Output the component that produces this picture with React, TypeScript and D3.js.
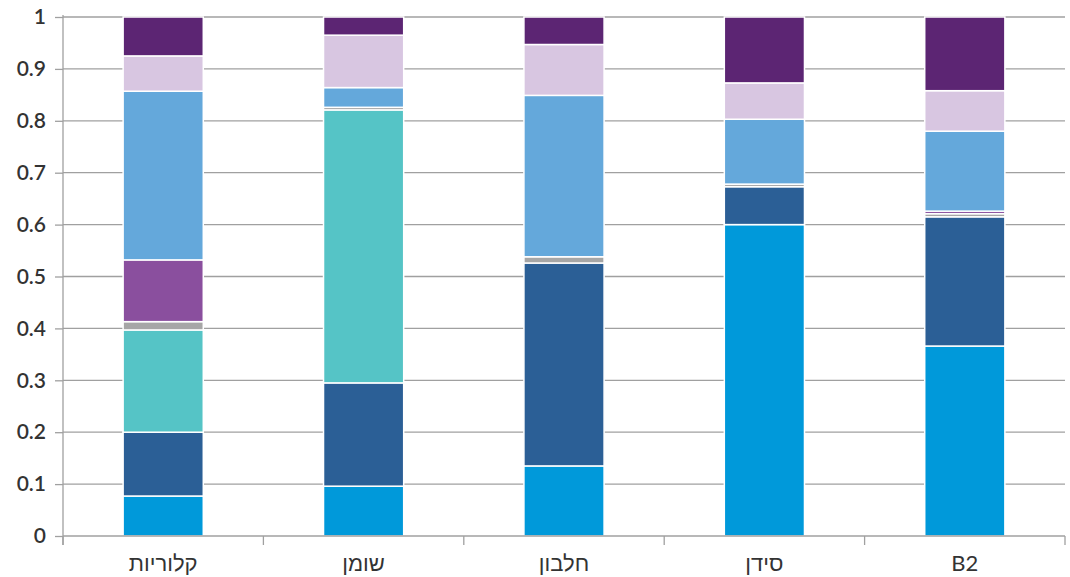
import React, { useEffect, useRef } from 'react';
import * as d3 from 'd3';

const categories = ['קלוריות', 'שומן', 'חלבון', 'סידן', 'B2'];
const seriesNames = ['s1', 's2', 's3', 's4', 's5', 's6', 's7', 's8'];
const seriesColors = ['#0099DA', '#2B5F96', '#55C4C6', '#A6A6A6', '#8A4F9E', '#64A8DB', '#D8C6E1', '#5C2573'];

const s1 = [0.077, 0.096, 0.135, 0.6, 0.366];
const s2 = [0.123, 0.199, 0.391, 0.073, 0.249];
const s3 = [0.197, 0.526, 0, 0, 0];
const s4 = [0.016, 0.005, 0.012, 0.005, 0.006];
const s5 = [0.119, 0, 0, 0, 0.005];
const s6 = [0.325, 0.038, 0.311, 0.125, 0.154];
const s7 = [0.068, 0.101, 0.098, 0.07, 0.078];
const s8 = [0.075, 0.035, 0.053, 0.127, 0.142];
const yTicks = [0, 0.1, 0.2, 0.3, 0.4, 0.5, 0.6, 0.7, 0.8, 0.9, 1];

const W = 1070;
const H = 577;

export default function App() {
  const ref = useRef<SVGSVGElement>(null);

  useEffect(() => {
    if (!ref.current) return;
    const svg = d3.select(ref.current);
    svg.selectAll('*').remove();

    const left = 63, right = 1065, top = 17, bottom = 536;
    const all = [s1, s2, s3, s4, s5, s6, s7, s8];
    const rows = categories.map((c, i) => {
      const r: any = { cat: c };
      seriesNames.forEach((s, j) => (r[s] = all[j][i]));
      return r;
    });

    const x = d3.scaleBand().domain(categories).range([left, right]).paddingInner(0.6).paddingOuter(0.3);
    const xb = d3.scaleBand().domain(categories).range([left, right]);
    const y = d3.scaleLinear().domain([0, 1]).range([bottom, top]);
    const font = 'Lato, "Noto Sans", sans-serif';

    // grid
    svg.append('g').selectAll('line').data(yTicks.slice(1)).enter().append('line')
      .attr('x1', left).attr('x2', right)
      .attr('y1', d => y(d)).attr('y2', d => y(d))
      .attr('stroke', '#A0A0A0').attr('stroke-width', 1.3);

    const stack = d3.stack<any>().keys(seriesNames)(rows);
    svg.append('g').selectAll('g').data(stack).enter().append('g')
      .attr('fill', (d, i) => seriesColors[i])
      .selectAll('rect').data(d => d).enter().append('rect')
      .attr('x', d => x(d.data.cat) as number)
      .attr('width', x.bandwidth())
      .attr('y', d => y(d[1]))
      .attr('height', d => Math.max(0, y(d[0]) - y(d[1])))
      .attr('stroke', '#fff').attr('stroke-width', d => (d[1] - d[0] > 0 ? 1.5 : 0));

    // y axis
    const ya = svg.append('g').attr('transform', `translate(${left},0)`)
      .call(d3.axisLeft(y).tickValues(yTicks).tickSize(8).tickPadding(9).tickFormat(d => d3.format('')(d as number)));
    ya.select('.domain').attr('d', `M0,${top - 2}V${bottom + 9}`).attr('stroke', '#A0A0A0').attr('stroke-width', 1.3);
    ya.selectAll('.tick line').attr('stroke', '#A0A0A0').attr('stroke-width', 1.3);
    ya.selectAll('.tick text')
      .style('font-family', font).style('font-size', '21px').style('font-weight', '600').attr('fill', '#333');

    // x axis
    const xg = svg.append('g');
    xg.append('line').attr('x1', left).attr('x2', right).attr('y1', bottom).attr('y2', bottom)
      .attr('stroke', '#A0A0A0').attr('stroke-width', 1.3);
    const bounds = categories.map(c => xb(c) as number).concat([right]);
    xg.selectAll('line.t').data(bounds).enter().append('line').attr('class', 't')
      .attr('x1', d => d).attr('x2', d => d).attr('y1', bottom).attr('y2', bottom + 9)
      .attr('stroke', '#A0A0A0').attr('stroke-width', 1.3);
    xg.selectAll('text').data(categories).enter().append('text')
      .attr('x', d => (xb(d) as number) + xb.bandwidth() / 2)
      .attr('y', 571)
      .attr('text-anchor', 'middle')
      .style('font-family', font).style('font-size', '22px').attr('fill', '#333')
      .text(d => d);
  }, []);

  return (
    <div style={{ position: 'absolute', left: 0, top: 0 }}>
      <svg ref={ref} width={W} height={H} style={{ display: 'block', background: '#fff' }} />
    </div>
  );
}
